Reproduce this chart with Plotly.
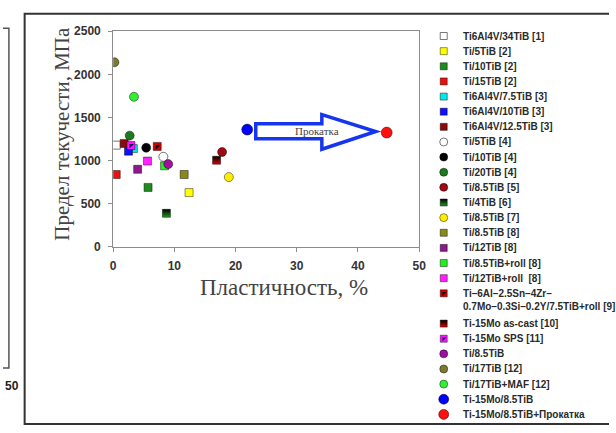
import plotly.graph_objects as go

W, H = 616, 433

# ---- materials: elongation (%) vs yield strength (MPa) ----
materials = [
    "Ti6Al4V/34TiB [1]", "Ti/5TiB [2]", "Ti/10TiB [2]", "Ti/15TiB [2]",
    "Ti6Al4V/7.5TiB [3]", "Ti6Al4V/10TiB [3]", "Ti6Al4V/12.5TiB [3]",
    "Ti/5TiB [4]", "Ti/10TiB [4]", "Ti/20TiB [4]", "Ti/8.5TiB [5]",
    "Ti/4TiB [6]", "Ti/8.5TiB [7]", "Ti/8.5TiB [8]", "Ti/12TiB [8]",
    "Ti/8.5TiB+roll [8]", "Ti/12TiB+roll  [8]",
    "Ti–6Al–2.5Sn–4Zr–<br>0.7Mo–0.3Si–0.2Y/7.5TiB+roll [9]",
    "Ti-15Mo as-cast [10]", "Ti-15Mo SPS [11]", "Ti/8.5TiB",
    "Ti/17TiB [12]", "Ti/17TiB+MAF [12]", "Ti-15Mo/8.5TiB",
    "Ti-15Mo/8.5TiB+Прокатка",
]
elongation = [
    0.5, 12.4, 5.7, 0.5,
    3.3, 2.5, 1.8,
    8.2, 5.4, 2.7, 17.8,
    8.7, 18.9, 11.6, 4.0,
    8.4, 5.6,
    7.2,
    16.9, 2.9, 9.0,
    0.2, 3.4, 21.9,
    44.7,
]
yield_strength = [
    1180, 630, 690, 840,
    1140, 1110, 1200,
    1045, 1150, 1290, 1100,
    390, 810, 840, 900,
    940, 995,
    1165,
    1005, 1175, 960,
    2140, 1740, 1360,
    1325,
]

# ---- marker styling per material ----
fill_colors = [
    "#ffffff", "#ffff00", "#1e8c1e", "#e81010",
    "#00e8e8", "#1010ff", "#8b0a0a",
    "#ffffff", "#000000", "#1e7a1e", "#a00a14",
    "#1e9c1e", "#ffee00", "#8a8a1a", "#8b1a8b",
    "#22ee22", "#ff22ff",
    "#d00000",
    "#e00000", "#ff10ff", "#a010a0",
    "#7a7a30", "#33ee33", "#0000ff",
    "#ff1010",
]
symbols = [
    "square", "square", "square", "square",
    "square", "square", "square",
    "circle", "circle", "circle", "circle",
    "square", "circle", "square", "square",
    "square", "square",
    "square",
    "square", "square", "circle",
    "circle", "circle", "circle",
    "circle",
]
# two-colour squares: ("top", colour) -> upper half, ("diag", colour) -> upper corner
two_tone = {11: ("top", "#000000"), 17: ("diag", "#000000"),
            18: ("top", "#000000"), 19: ("diag", "#101060")}
big = {23, 24}

AXIS_GREY = "#8c8c8c"
TEXT = "#2a2a2a"


def marker_size(i):
    if i in big:
        return 11
    return 9 if symbols[i] == "circle" else 8


def outline(i):
    return "#555555" if fill_colors[i] == "#ffffff" else "rgba(0,0,0,0.55)"


fig = go.Figure()

# data points
for i, name in enumerate(materials):
    mk = dict(symbol=symbols[i], color=fill_colors[i], size=marker_size(i),
              line=dict(color=outline(i), width=0.8))
    if i in two_tone and two_tone[i][0] == "top":
        mk["color"] = two_tone[i][1]
        mk["gradient"] = dict(type="vertical", color=fill_colors[i])
    fig.add_trace(go.Scatter(x=[elongation[i]], y=[yield_strength[i]], mode="markers",
                             marker=mk, xaxis="x", yaxis="y", showlegend=False,
                             name=name))
    if i in two_tone and two_tone[i][0] == "diag":
        fig.add_trace(go.Scatter(x=[elongation[i]], y=[yield_strength[i]], mode="markers",
                                 marker=dict(symbol="triangle-nw", color=two_tone[i][1],
                                             size=marker_size(i) / 1.6, line=dict(width=0)),
                                 xaxis="x", yaxis="y", showlegend=False, hoverinfo="skip"))

# legend column (pixel coordinates on an overlay axis)
LEG_TOP, LEG_STEP, LEG_MARK_X, LEG_TEXT_X = 30, 15.64, 448, 466
slots = []
k = 0
for i in range(len(materials)):
    slots.append(k)
    k += 2 if "<br>" in materials[i] else 1

annotations = []
for i, name in enumerate(materials):
    ly = LEG_TOP + LEG_STEP * slots[i]
    sz = marker_size(i) - 1
    mk = dict(symbol=symbols[i], color=fill_colors[i], size=sz,
              line=dict(color=outline(i), width=0.8))
    if i in two_tone and two_tone[i][0] == "top":
        mk["color"] = two_tone[i][1]
        mk["gradient"] = dict(type="vertical", color=fill_colors[i])
    fig.add_trace(go.Scatter(x=[LEG_MARK_X], y=[ly], mode="markers", marker=mk,
                             xaxis="x2", yaxis="y2", showlegend=False, hoverinfo="skip"))
    if i in two_tone and two_tone[i][0] == "diag":
        fig.add_trace(go.Scatter(x=[LEG_MARK_X], y=[ly], mode="markers",
                                 marker=dict(symbol="triangle-nw", color=two_tone[i][1],
                                             size=sz / 1.6, line=dict(width=0)),
                                 xaxis="x2", yaxis="y2", showlegend=False, hoverinfo="skip"))
    for j, line in enumerate(name.split("<br>")):
        annotations.append(dict(
            x=LEG_TEXT_X, y=ly + j * LEG_STEP * 0.85, xref="x2", yref="y2",
            text=line, showarrow=False, xanchor="left", yanchor="middle",
            font=dict(family="Liberation Sans, Arial", size=10, color=TEXT, weight="bold")))

# axis titles
annotations.append(dict(x=286, y=290, xref="x2", yref="y2", text="Пластичность, %",
                        showarrow=False, xanchor="center", yanchor="middle",
                        font=dict(family="Liberation Serif, Times New Roman", size=23, color="#444444")))
annotations.append(dict(x=60, y=131, xref="x2", yref="y2", text="Предел текучести, МПа",
                        showarrow=False, textangle=-90, xanchor="center", yanchor="middle",
                        font=dict(family="Liberation Serif, Times New Roman", size=21, color="#444444")))

# rolling arrow between the as-sintered and the rolled Ti-15Mo/8.5TiB points
bx, by = elongation[23], yield_strength[23]
rx, ry = elongation[24], yield_strength[24]
ymid = (by + ry) / 2
x0, xb, xt = bx + 1.4, bx + 12.2, rx - 1.8
path = (f"M {x0},{ymid + 85} L {xb},{ymid + 85} L {xb},{ymid + 190} L {xt},{ymid - 5} "
        f"L {xb},{ymid - 210} L {xb},{ymid - 90} L {x0},{ymid - 90} Z")
shapes = [
    dict(type="path", path=path, xref="x", yref="y", fillcolor="white",
         line=dict(color="#1535ee", width=3.5), layer="above"),
    # outer frame
    dict(type="rect", x0=22, x1=640, y0=7, y1=431, xref="x2", yref="y2",
         line=dict(color="#333333", width=2)),
    # edge of the neighbouring panel
    dict(type="path", path="M -5,22 L 6,22 L 6,373 L -5,373", xref="x2", yref="y2",
         line=dict(color="#555555", width=1.5)),
]
annotations.append(dict(x=(x0 + xt) / 2 + 0.2, y=ymid + 5, xref="x", yref="y", text="Прокатка",
                        showarrow=False, xanchor="center", yanchor="middle",
                        font=dict(family="Liberation Serif, Times New Roman", size=11, color="#444444")))
annotations.append(dict(x=0, y=392, xref="x2", yref="y2", text="50", showarrow=False,
                        xanchor="left", yanchor="middle",
                        font=dict(family="Liberation Sans, Arial", size=12, color="#222222", weight="bold")))

tickfont = dict(family="Liberation Sans, Arial", size=12, color="#333333", weight="bold")
fig.update_layout(
    width=W, height=H, margin=dict(l=0, r=0, t=0, b=0),
    paper_bgcolor="white", plot_bgcolor="rgba(0,0,0,0)",
    xaxis=dict(domain=[112 / W, 423 / W], range=[0, 50], dtick=10, showgrid=False,
               zeroline=False, showline=True, linecolor=AXIS_GREY, linewidth=1, mirror=True,
               ticks="outside", ticklen=4, tickcolor=AXIS_GREY, tickfont=tickfont, anchor="y",
               ticklabelstandoff=4),
    yaxis=dict(domain=[(H - 248) / H, (H - 25) / H], range=[0, 2500], dtick=500, showgrid=False,
               zeroline=False, showline=True, linecolor=AXIS_GREY, linewidth=1, mirror=True,
               ticks="outside", ticklen=4, tickcolor=AXIS_GREY, tickfont=tickfont, anchor="x",
               ticklabelstandoff=5),
    xaxis2=dict(domain=[0, 1], range=[0, W], visible=False, anchor="y2", fixedrange=True),
    yaxis2=dict(domain=[0, 1], range=[H, 0], visible=False, anchor="x2", fixedrange=True),
    shapes=shapes, annotations=annotations, showlegend=False,
)

fig.write_html("out.html")
